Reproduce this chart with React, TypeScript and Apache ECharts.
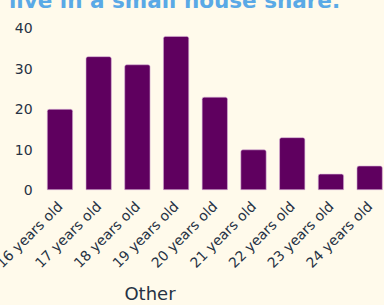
import React, { useEffect, useRef } from "react";
import * as echarts from "echarts";

const categories = [
  "16 years old",
  "17 years old",
  "18 years old",
  "19 years old",
  "20 years old",
  "21 years old",
  "22 years old",
  "23 years old",
  "24 years old",
];
const values = [20, 33, 31, 38, 23, 10, 13, 4, 6];
const yTicks = { min: 0, max: 40, interval: 10 };
const titleText = "live in a small house share.";
const xAxisTitle = "Other";

const FONT = "'DejaVu Sans', sans-serif";

export default function App() {
  const ref = useRef<HTMLDivElement>(null);
  useEffect(() => {
    if (!ref.current) return;
    const chart = echarts.init(ref.current, null, { renderer: "svg" });
    chart.setOption({
      animation: false,
      backgroundColor: "#fffaeb",
      textStyle: { fontFamily: FONT },
      grid: {
        left: 40.6,
        right: -5,
        top: 28,
        bottom: 115,
        containLabel: false,
        outerBoundsMode: "none",
      },
      graphic: [
        {
          type: "text",
          left: 9,
          top: -11,
          style: {
            text: titleText,
            fill: "#5aa9e6",
            font: "bold 21.5px " + FONT,
          },
        },
        {
          type: "text",
          x: 150,
          y: 293,
          style: {
            text: xAxisTitle,
            fill: "#263244",
            font: "500 18px " + FONT,
            align: "center",
            verticalAlign: "middle",
          },
        },
      ],
      xAxis: {
        type: "category",
        data: categories,
        axisLine: { show: false },
        axisTick: { show: false },
        axisLabel: {
          rotate: 45,
          color: "#263244",
          fontSize: 14,
          fontFamily: FONT,
          margin: 14,
          interval: 0,
        },
      },
      yAxis: {
        type: "value",
        min: yTicks.min,
        max: yTicks.max,
        interval: yTicks.interval,
        splitLine: { show: false },
        axisLine: { show: false },
        axisTick: { show: false },
        axisLabel: { color: "#263244", fontSize: 14, fontFamily: FONT, margin: 8 },
      },
      series: [
        {
          type: "bar",
          data: values,
          barCategoryGap: "33%",
          itemStyle: {
            color: "#5f005f",
            borderRadius: [2, 2, 0, 0],
            borderColor: "#d8b4d8",
            borderWidth: 0.6,
          },
        },
      ],
    });
    return () => chart.dispose();
  }, []);
  return <div ref={ref} style={{ width: 384, height: 305, position: "fixed", left: 0, top: 0 }} />;
}
